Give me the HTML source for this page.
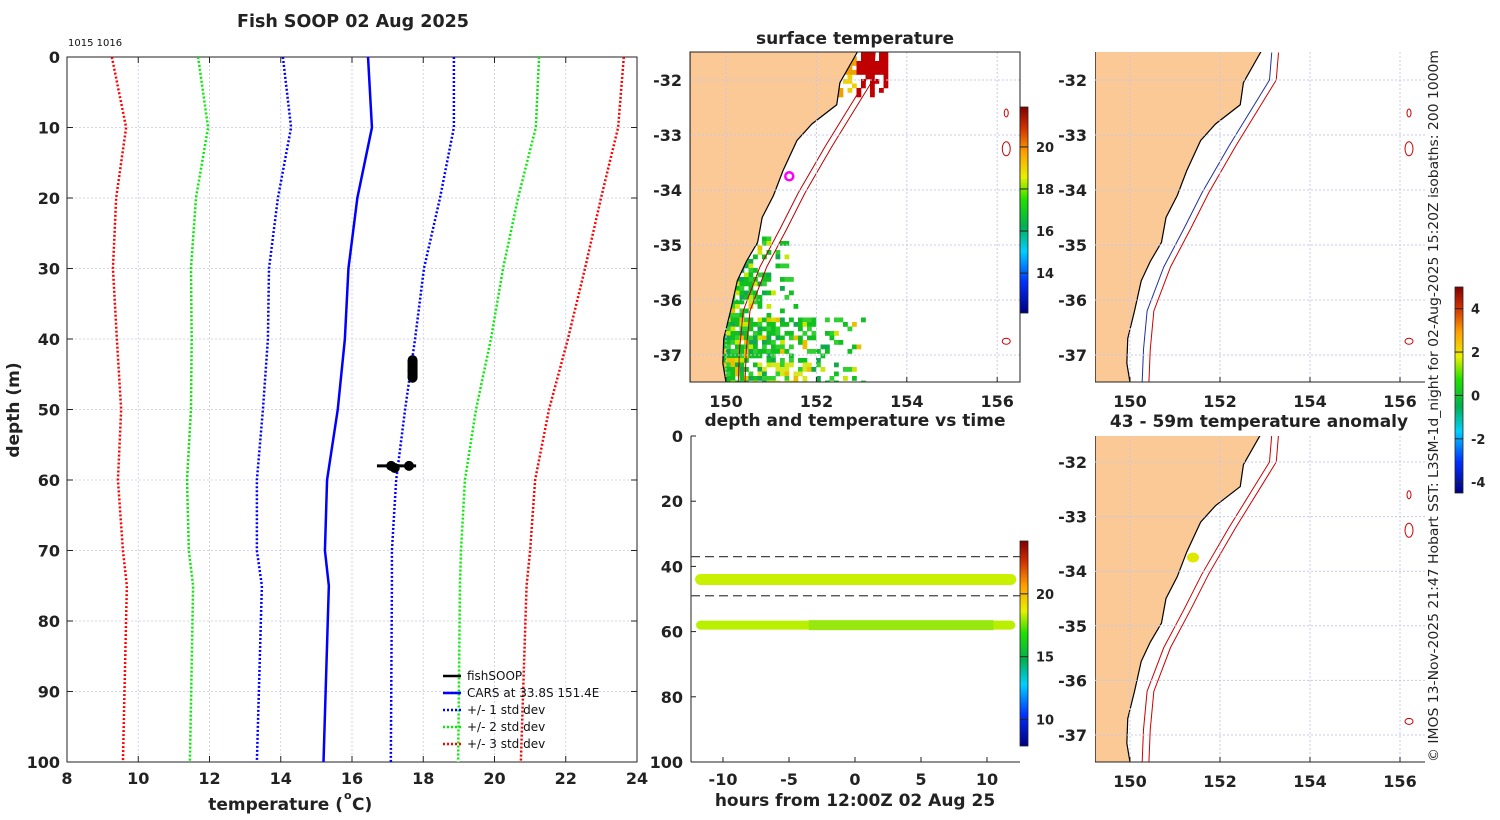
<!DOCTYPE html>
<html><head><meta charset="utf-8"><style>
body{margin:0;background:#fff;}
svg{display:block;font-family:"DejaVu Sans","Liberation Sans",sans-serif;}
.b{font-weight:bold;fill:#222;}
</style></head><body>
<svg id="s" width="1500" height="820" viewBox="0 0 1500 820" xmlns="http://www.w3.org/2000/svg">
<defs>
<linearGradient id="jet" x1="0" y1="1" x2="0" y2="0">
<stop offset="0" stop-color="#00007f"/><stop offset="0.15" stop-color="#0030ff"/><stop offset="0.3" stop-color="#00d0ff"/><stop offset="0.42" stop-color="#00b050"/><stop offset="0.55" stop-color="#20e000"/><stop offset="0.66" stop-color="#e8f000"/><stop offset="0.78" stop-color="#ffa000"/><stop offset="0.9" stop-color="#d03000"/><stop offset="1" stop-color="#800000"/>
</linearGradient>
</defs>
</svg>
<script>
// ---- data ----
const depths=[0,10,20,30,40,50,60,70,75,100];
const carsMean=[16.45,16.56,16.15,15.9,15.8,15.6,15.3,15.24,15.35,15.2];
const minus1=[14.06,14.29,13.92,13.67,13.64,13.5,13.33,13.33,13.47,13.33];
const plus1=[18.86,18.86,18.47,18.02,17.77,17.49,17.24,17.12,17.12,17.09];
const minus2=[11.68,11.96,11.62,11.48,11.5,11.48,11.37,11.42,11.54,11.45];
const plus2=[21.25,21.16,20.66,20.24,19.9,19.48,19.17,19.06,19.03,18.98];
const minus3=[9.26,9.66,9.38,9.29,9.4,9.52,9.43,9.57,9.68,9.57];
const plus3=[23.63,23.47,22.99,22.54,22.06,21.53,21.14,21.0,20.9,20.74];
const fishTemp=[17.7,17.7,17.7,17.1,17.2,17.6];
const fishDepth=[43,44.5,45.5,58,58.3,58];
const tempTicks=[8,10,12,14,16,18,20,22,24];
const depthTicks=[0,10,20,30,40,50,60,70,80,90,100];
const hourTicks=[-10,-5,0,5,10];
const tsDepthTicks=[0,20,40,60,80,100];
const bandDepth=[44,58];
const bandLimits=[37,49];
const coastLon=[153.0,152.9,152.52,152.45,151.9,151.57,151.26,151.05,150.8,150.7,150.45,150.25,150.1,149.95,149.93,150.0];
const coastLat=[-31.3,-31.5,-32.05,-32.45,-32.8,-33.1,-33.65,-34.1,-34.5,-34.95,-35.3,-35.65,-36.2,-36.7,-37.15,-37.5];
const iso200Lon=[153.15,153.1,152.2,151.6,151.2,150.75,150.38,150.3,150.27];
const iso200Lat=[-31.5,-32,-33.2,-34.05,-34.7,-35.4,-36.2,-36.9,-37.5];
const isoOffset=[0,0.15];
const latTicks=[-32,-33,-34,-35,-36,-37];
const lonTicks=[150,152,154,156];
const sstTicks=[14,16,18,20];
const anomTicks=[-4,-2,0,2,4];
const tsTicks=[10,15,20];
const shipLon=151.4, shipLat=-33.75;

const NS="http://www.w3.org/2000/svg";
const S=document.getElementById('s');
function el(t,a,p){const e=document.createElementNS(NS,t);for(const k in a)e.setAttribute(k,a[k]);(p||S).appendChild(e);return e;}
function txt(x,y,s,a,p){const e=el('text',Object.assign({x:x,y:y},a),p);e.textContent=s;return e;}

// ---- left profile plot ----
const L={x0:67,x1:637,y0:57,y1:762};
const tx=v=>L.x0+(v-8)/16*(L.x1-L.x0);
const dy=v=>L.y0+v/100*(L.y1-L.y0);
let g=el('g',{});


tempTicks.forEach(t=>{const x=tx(t);
 const l=el('line',{x1:x,y1:L.y0,x2:x,y2:L.y1,stroke:'#c8c8e8','stroke-width':0.8,'stroke-dasharray':'2,2'},g);
 
 el('line',{x1:x,y1:L.y1,x2:x,y2:L.y1-6,stroke:'#222'},g);el('line',{x1:x,y1:L.y0,x2:x,y2:L.y0+6,stroke:'#222'},g);
 const t2=txt(x,784,String(t),{'text-anchor':'middle','font-size':16,class:'b'},g);
 });
depthTicks.forEach(d=>{const y=dy(d);
 const l=el('line',{x1:L.x0,y1:y,x2:L.x1,y2:y,stroke:'#c8c8e8','stroke-width':0.8,'stroke-dasharray':'2,2'},g);
 
 el('line',{x1:L.x0,y1:y,x2:L.x0+6,y2:y,stroke:'#222'},g);el('line',{x1:L.x1,y1:y,x2:L.x1-6,y2:y,stroke:'#222'},g);
 const t2=txt(60,y+6,String(d),{'text-anchor':'end','font-size':16,class:'b'},g);
 });
el('rect',{x:L.x0,y:L.y0,width:L.x1-L.x0,height:L.y1-L.y0,fill:'none',stroke:'#222'},g);
function prof(arr,col,dash,w,name){const pts=arr.map((v,i)=>tx(v)+','+dy(depths[i])).join(' ');
 const p=el('polyline',{points:pts,fill:'none',stroke:col,'stroke-width':w,'stroke-dasharray':dash},g);
 }
prof(minus3,'#f00','2,2',2.5,'minus-3-std-line');prof(plus3,'#f00','2,2',2.5,'plus-3-std-line');
prof(minus2,'#0e0','2,2',2.5,'minus-2-std-line');prof(plus2,'#0e0','2,2',2.5,'plus-2-std-line');
prof(minus1,'#00f','2,2',2.5,'minus-1-std-line');prof(plus1,'#00f','2,2',2.5,'plus-1-std-line');
prof(carsMean,'#00f','',2.5,'cars-mean-line');
fishTemp.forEach((t,i)=>{const c=el('ellipse',{cx:tx(t),cy:dy(fishDepth[i]),rx:5,ry:5,fill:'#000'},g);
 });
el('line',{x1:tx(16.7),y1:dy(58),x2:tx(17.8),y2:dy(58),stroke:'#000','stroke-width':3},g);
el('rect',{x:tx(17.7)-5,y:dy(43),width:10,height:dy(45.5)-dy(43),fill:'#000'},g);
const leg=[['fishSOOP','#000',''],['CARS at 33.8S 151.4E','#00f',''],['+/- 1 std dev','#00f','2,2'],['+/- 2 std dev','#0e0','2,2'],['+/- 3 std dev','#f00','2,2']];
leg.forEach((e,i)=>{const y=676+i*17;const lg=el('g',{},g);
 
 el('line',{x1:443,y1:y,x2:461,y2:y,stroke:e[1],'stroke-width':2.5,'stroke-dasharray':e[2]},lg);
 txt(467,y+4,e[0],{'font-size':12,fill:'#111'},lg);});
let t=txt(353,27,'Fish SOOP 02 Aug 2025',{'text-anchor':'middle','font-size':17.5,class:'b'});

t=txt(68,46,'1015 1016',{'font-size':10,fill:'#111'});

t=txt(343,810,'temperature (',{'text-anchor':'end','font-size':17,class:'b'});

txt(344,799,'o',{'font-size':11,class:'b'});txt(352,810,'C)',{'font-size':17,class:'b'});
t=txt(0,0,'depth (m)',{'text-anchor':'middle','font-size':17,class:'b',transform:'translate(19,410) rotate(-90)'});


// ---- maps ----
function colorbar(x,y0,y1,lo,hi,ticks,name){const cg=el('g',{});
 
 el('rect',{x:x,y:y0,width:8,height:y1-y0,fill:'url(#jet)',stroke:'#222','stroke-width':0.8},cg);
 ticks.forEach(v=>{const y=y1-(v-lo)/(hi-lo)*(y1-y0);el('line',{x1:x,y1:y,x2:x+8,y2:y,stroke:'#222'},cg);
  txt(x+16,y+5,String(v),{'font-size':13,class:'b'},cg);});}
function map(M,name,isoCols,box){const mg=el('g',{});
 
 const lx=v=>M.x0+(v-150)*M.kx+M.dx, ly=v=>M.yref+(-32-v)*M.ky;
 M.lx=lx;M.ly=ly;
 const cp=el('clipPath',{id:name+'c'},mg);el('rect',{x:M.x0,y:M.y0,width:M.x1-M.x0,height:M.y1-M.y0},cp);
 const inner=el('g',{'clip-path':'url(#'+name+'c)'},mg);
 const sstLayer=el('g',{},inner);M.sst=sstLayer;
 let land='M'+M.x0+','+(M.y0-20)+' ';coastLon.forEach((v,i)=>land+='L'+lx(v)+','+ly(coastLat[i])+' ');land+='L'+M.x0+','+(M.y1+20)+'Z';
 const lp=el('path',{d:land,fill:'#fbc996',stroke:'#000','stroke-width':1.2},inner);
 
 M.inner=inner;
 lonTicks.forEach(v=>{const x=lx(v);el('line',{x1:x,y1:M.y0,x2:x,y2:M.y1,stroke:'#c8c8e8','stroke-dasharray':'2,2'},mg);
  el('line',{x1:x,y1:M.y1,x2:x,y2:M.y1-5,stroke:'#222'},mg);
  const tl=txt(x,M.y1+25,String(v),{'text-anchor':'middle','font-size':16,class:'b'},mg);
  });
 latTicks.forEach(v=>{const y=ly(v);el('line',{x1:M.x0,y1:y,x2:M.x1,y2:y,stroke:'#c8c8e8','stroke-dasharray':'2,2'},mg);
  const tl=txt(M.x0-8,y+6,String(v),{'text-anchor':'end','font-size':16,class:'b'},mg);
  });
 isoCols.forEach((c,k)=>{const pts=iso200Lon.map((v,i)=>lx(v+isoOffset[k])+','+ly(iso200Lat[i])).join(' ');
  const p=el('polyline',{points:pts,fill:'none',stroke:c,'stroke-width':1},inner);
  });
 [[-32.6,2,4],[-33.25,4,7],[-36.75,4,3]].forEach(a=>{el('ellipse',{cx:lx(156.2),cy:ly(a[0]),rx:a[1],ry:a[2],fill:'none',stroke:'#c00','stroke-width':1},mg);});
 el('line',{x1:M.x0,y1:M.y1,x2:M.x1,y2:M.y1,stroke:'#222'},mg);
 if(box)el('rect',{x:M.x0,y:M.y0,width:M.x1-M.x0,height:M.y1-M.y0,fill:'none',stroke:'#222'},mg);
 return M;}
const M1=map({x0:690,x1:1020,y0:52,y1:382,kx:45.2,dx:36,yref:80,ky:55},'sst-map',['#b00','#b00'],true);
// sst speckle (decorative satellite imagery)
function h(i,j){let n=Math.sin(i*12.9898+j*78.233)*43758.5453;return n-Math.floor(n);}
const cell=4.5;
for(let j=0;j<74;j++)for(let i=0;i<74;i++){
 const x=690+i*cell,y=52+j*cell;const lon=150+(x-726)/45.2,lat=-32-(y-80)/55;const r=h(i,j);let col=null;
 if(lat<-34.8){const east=lon-150.3;const p=lat<-36.3?0.85-east*0.28:0.8-east*0.6;
  if(r<p){const r2=h(j,i);col=r2<0.45?'#10c020':r2<0.7?'#30d030':r2<0.82?'#10a850':r2<0.92?'#c8e800':'#e8c000';
   if(lat<-37.1&&lon>150.6&&lon<151.8&&r2<0.6)col='#d8e820';}}
 if(lat>-32.3&&lon>152.4&&lon<153.5){const p=lat>-31.9?0.85:0.4;if(r<p)col=lon<152.8?(r<0.3?'#f0d000':'#f0a000'):'#c00000';}
 if(col)el('rect',{x:x,y:y,width:cell+0.3,height:cell+0.3,fill:col},M1.sst);}
let c=el('circle',{cx:M1.lx(shipLon),cy:M1.ly(shipLat),r:4,fill:'none',stroke:'#f0f','stroke-width':2.5});

t=txt(855,44,'surface temperature',{'text-anchor':'middle','font-size':17,class:'b'});

colorbar(1020,107,313,12.1,21.9,sstTicks,'sst-colorbar');

const M2=map({x0:1095,x1:1425,y0:52,y1:382,kx:45,dx:35,yref:80,ky:55},'isobath-map',['#2030a0','#c00'],false);
const M3=map({x0:1095,x1:1425,y0:436,y1:762,kx:45,dx:35,yref:462,ky:54.6},'anomaly-map',['#c00','#c00'],false);
c=el('ellipse',{cx:M3.lx(shipLon),cy:M3.ly(shipLat),rx:6,ry:5,fill:'#e0e800'});

t=txt(1259,427,'43 - 59m temperature anomaly',{'text-anchor':'middle','font-size':17,class:'b'});

colorbar(1455,287,493,-4.5,5,anomTicks,'anomaly-colorbar');
t=txt(0,0,'© IMOS 13-Nov-2025 21:47 Hobart SST: L3SM-1d_night for 02-Aug-2025 15:20Z isobaths: 200  1000m',{'font-size':13.5,fill:'#222','text-anchor':'middle',textLength:712,lengthAdjust:'spacingAndGlyphs',transform:'translate(1438,406) rotate(-90)'});


// ---- time series ----
const T={x0:691,x1:1020,y0:436,y1:762};
const hx=v=>855+v*13.2, ty=v=>T.y0+v/100*(T.y1-T.y0);
g=el('g',{});
el('line',{x1:T.x0,y1:T.y0,x2:T.x0,y2:T.y1,stroke:'#222'},g);el('line',{x1:T.x0,y1:T.y1,x2:T.x1,y2:T.y1,stroke:'#222'},g);
hourTicks.forEach(h=>{el('line',{x1:hx(h),y1:T.y1,x2:hx(h),y2:T.y1-5,stroke:'#222'},g);
 const tl=txt(hx(h),785,String(h),{'text-anchor':'middle','font-size':16,class:'b'},g);
 });
tsDepthTicks.forEach(d=>{el('line',{x1:T.x0,y1:ty(d),x2:T.x0+5,y2:ty(d),stroke:'#222'},g);
 const tl=txt(683,ty(d)+6,String(d),{'text-anchor':'end','font-size':16,class:'b'},g);
 });
bandLimits.forEach(d=>{const l=el('line',{x1:T.x0,y1:ty(d),x2:T.x1,y2:ty(d),stroke:'#444','stroke-width':1.2,'stroke-dasharray':'9,5'},g);
 });
let b=el('line',{x1:hx(-11.7),y1:ty(bandDepth[0]),x2:hx(11.8),y2:ty(bandDepth[0]),stroke:'#c8f000','stroke-width':11,'stroke-linecap':'round'},g);

b=el('line',{x1:hx(-11.7),y1:ty(bandDepth[1]),x2:hx(11.8),y2:ty(bandDepth[1]),stroke:'#b8f000','stroke-width':9,'stroke-linecap':'round'},g);

el('line',{x1:hx(-3.5),y1:ty(bandDepth[1]),x2:hx(10.5),y2:ty(bandDepth[1]),stroke:'#98e810','stroke-width':10},g);
t=txt(855,426,'depth and temperature vs time',{'text-anchor':'middle','font-size':17,class:'b'});

t=txt(855,806,'hours from 12:00Z 02 Aug 25',{'text-anchor':'middle','font-size':17,class:'b'});

colorbar(1020,541,746,7.9,24.2,tsTicks,'time-colorbar');
</script>
</body></html>
